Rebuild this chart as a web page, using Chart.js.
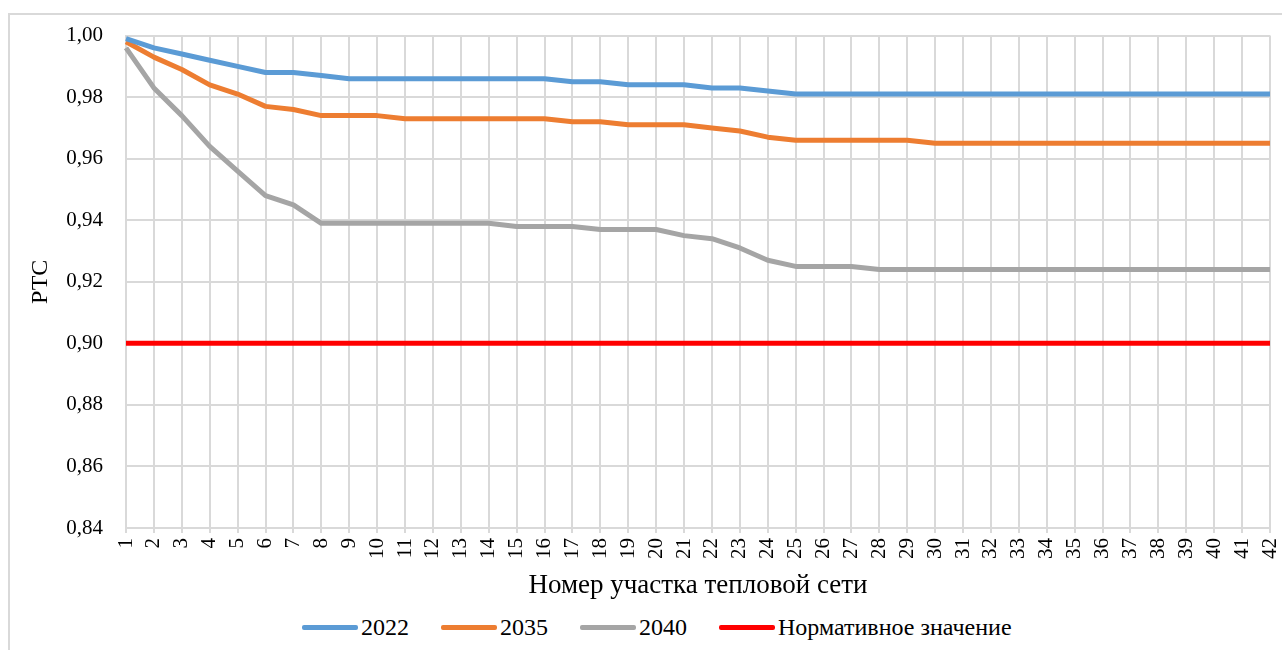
<!DOCTYPE html>
<html lang="ru">
<head>
<meta charset="utf-8">
<title>РТС по участкам тепловой сети</title>
<script src="https://cdn.jsdelivr.net/npm/chart.js@4.4.1/dist/chart.umd.min.js"></script>
<style>
  html, body { margin: 0; padding: 0; background: #fff; overflow: hidden; }
  body { width: 1282px; height: 650px; position: relative; }
  #frame { position: absolute; left: 8px; top: 13px; width: 1300px; height: 660px; border: 2px solid #d9d9d9; box-sizing: border-box; }
  #chart { position: absolute; left: 0; top: 0; }
  #legend { position: absolute; left: 302px; top: 612px; height: 30px; display: flex; align-items: center; gap: 32px; }
  .legend-item { display: flex; align-items: center; gap: 3px; font-family: "Liberation Serif", "Times New Roman", serif; font-size: 24px; color: #000; }
  .legend-swatch { width: 56px; height: 5px; border-radius: 2px; }
</style>
</head>
<body>
<div id="frame"></div>
<canvas id="chart" width="1282" height="605"></canvas>
<div id="legend"></div>

<script>
// Номера участков тепловой сети
const sections = ['1','2','3','4','5','6','7','8','9','10','11','12','13','14','15','16','17','18','19','20','21',
  '22','23','24','25','26','27','28','29','30','31','32','33','34','35','36','37','38','39','40','41','42'];

// РТС по годам
const rts2022 = [0.999, 0.996, 0.994, 0.992, 0.990, 0.988, 0.988, 0.987, 0.986, 0.986, 0.986, 0.986, 0.986, 0.986,
  0.986, 0.986, 0.985, 0.985, 0.984, 0.984, 0.984, 0.983, 0.983, 0.982, 0.981, 0.981, 0.981, 0.981,
  0.981, 0.981, 0.981, 0.981, 0.981, 0.981, 0.981, 0.981, 0.981, 0.981, 0.981, 0.981, 0.981, 0.981];
const rts2035 = [0.998, 0.993, 0.989, 0.984, 0.981, 0.977, 0.976, 0.974, 0.974, 0.974, 0.973, 0.973, 0.973, 0.973,
  0.973, 0.973, 0.972, 0.972, 0.971, 0.971, 0.971, 0.970, 0.969, 0.967, 0.966, 0.966, 0.966, 0.966,
  0.966, 0.965, 0.965, 0.965, 0.965, 0.965, 0.965, 0.965, 0.965, 0.965, 0.965, 0.965, 0.965, 0.965];
const rts2040 = [0.996, 0.983, 0.974, 0.964, 0.956, 0.948, 0.945, 0.939, 0.939, 0.939, 0.939, 0.939, 0.939, 0.939,
  0.938, 0.938, 0.938, 0.937, 0.937, 0.937, 0.935, 0.934, 0.931, 0.927, 0.925, 0.925, 0.925, 0.924,
  0.924, 0.924, 0.924, 0.924, 0.924, 0.924, 0.924, 0.924, 0.924, 0.924, 0.924, 0.924, 0.924, 0.924];
const rtsNorm = [0.90, 0.90, 0.90, 0.90, 0.90, 0.90, 0.90, 0.90, 0.90, 0.90, 0.90, 0.90, 0.90, 0.90,
  0.90, 0.90, 0.90, 0.90, 0.90, 0.90, 0.90, 0.90, 0.90, 0.90, 0.90, 0.90, 0.90, 0.90,
  0.90, 0.90, 0.90, 0.90, 0.90, 0.90, 0.90, 0.90, 0.90, 0.90, 0.90, 0.90, 0.90, 0.90];

// Ось Y
const yMin = 0.84;
const yMax = 1.00;
const yStep = 0.02;

const seriesNames = ['2022', '2035', '2040', 'Нормативное значение'];
const seriesColors = ['#5b9bd5', '#ed7d31', '#a5a5a5', '#ff0000'];

const fontFamily = "'Liberation Serif', 'Times New Roman', serif";
const gridColor = '#d9d9d9';

function makeDataset(idx, values) {
  return {
    label: seriesNames[idx],
    data: values,
    borderColor: seriesColors[idx],
    backgroundColor: seriesColors[idx],
    borderWidth: 5,
    pointRadius: 0,
    pointHoverRadius: 0,
    tension: 0,
    borderJoinStyle: 'round'
  };
}

const ctx = document.getElementById('chart').getContext('2d');
const chart = new Chart(ctx, {
  type: 'line',
  data: {
    labels: sections,
    datasets: [
      makeDataset(0, rts2022),
      makeDataset(1, rts2035),
      makeDataset(2, rts2040),
      makeDataset(3, rtsNorm)
    ]
  },
  options: {
    responsive: false,
    animation: false,
    devicePixelRatio: 1,
    layout: { padding: { top: 34, right: 0, bottom: 0, left: 0 } },
    plugins: {
      legend: { display: false },
      tooltip: { enabled: false }
    },
    scales: {
      x: {
        offset: false,
        grid: { color: gridColor, lineWidth: 2, tickLength: 5, drawTicks: true },
        border: { color: gridColor, width: 2 },
        ticks: {
          color: '#000',
          font: { family: fontFamily, size: 21 },
          minRotation: 90,
          maxRotation: 90,
          autoSkip: false,
          padding: 5
        },
        title: {
          display: true,
          text: 'Номер участка тепловой сети',
          color: '#000',
          font: { family: fontFamily, size: 27 },
          padding: { top: 0, bottom: 3 }
        },
        afterFit: (scale) => {
          scale.height = 77;
          scale.paddingRight = 12;
        }
      },
      y: {
        min: yMin,
        max: yMax,
        grid: { color: gridColor, lineWidth: 2, drawTicks: false },
        border: { color: gridColor, width: 2 },
        ticks: {
          stepSize: yStep,
          color: '#000',
          padding: 23,
          font: { family: fontFamily, size: 21 },
          callback: (v) => Number(v).toFixed(2).replace('.', ',')
        },
        title: {
          display: true,
          text: 'РТС',
          color: '#000',
          font: { family: fontFamily, size: 24 },
          padding: { top: 26, bottom: 0 }
        },
        afterFit: (scale) => { scale.width = 126; }
      }
    }
  }
});

// HTML legend built from the chart datasets
const legendEl = document.getElementById('legend');
legendEl.innerHTML = chart.data.datasets.map(ds => `
  <div class="legend-item">
    <span class="legend-swatch" style="background:${ds.borderColor}"></span>
    <span>${ds.label}</span>
  </div>`).join('');
</script>
</body>
</html>
